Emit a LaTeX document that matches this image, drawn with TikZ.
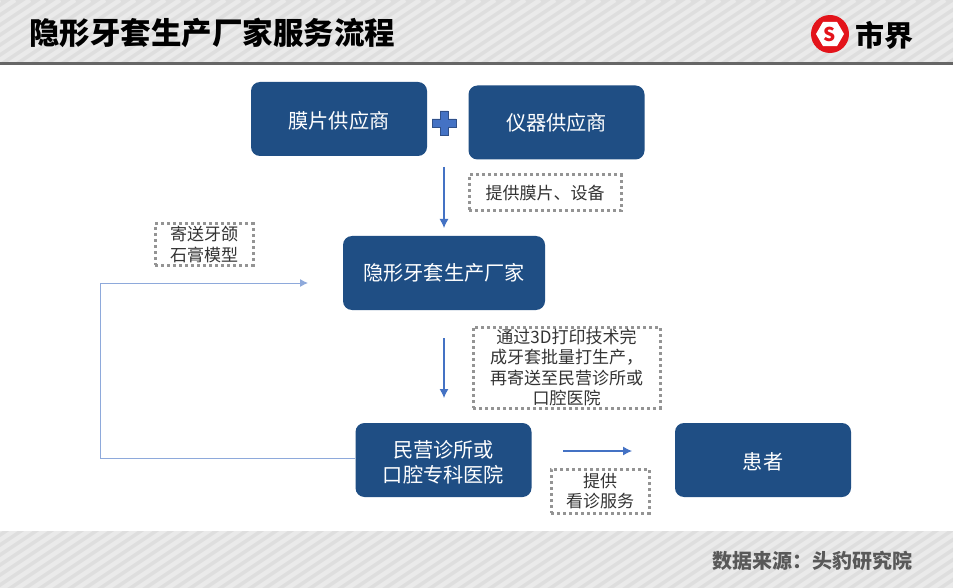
\documentclass[tikz,border=0pt]{standalone}
\usepackage{fontspec}
\usetikzlibrary{arrows.meta,shapes.geometric}
\setmainfont{Noto Sans CJK SC}
\definecolor{boxblue}{HTML}{1F4E84}
\definecolor{arrowblue}{HTML}{4472C4}
\definecolor{lineblue}{HTML}{8EA9DB}
\definecolor{stripedark}{HTML}{DEDEDE}
\definecolor{stripelight}{HTML}{EAEAEA}
\definecolor{logored}{HTML}{E3141B}
\newcommand{\dn}[1]{\raisebox{-2pt}[\height][\depth]{#1}}
\begin{document}
\begin{tikzpicture}[x=1pt, y=-1pt]

\tikzstyle{box} = [rectangle, rounded corners=9pt, fill=boxblue, text=white, minimum width=176pt, minimum height=74pt, align=center, inner sep=0pt, font=\fontsize{20.2}{25}\selectfont]
\tikzstyle{tag} = [rectangle, draw=black!42, line width=3pt, dash pattern=on 3pt off 3pt, text=black!80, align=center, inner sep=0pt, font=\fontsize{17}{20.5}\selectfont]
\tikzstyle{flow} = [-{Latex[length=9pt,width=9pt]}, arrowblue, line width=1.1pt]

\useasboundingbox (0,0) rectangle (953,588);
\fill[white] (0,0) rectangle (953,588);

% header and footer bands
\begin{scope}
\clip (0,0) rectangle (953,62) (0,531) rectangle (953,588);
\fill[stripedark] (0,0) rectangle (953,588);
\foreach \i in {-900,-885,...,1000}
  \draw[stripelight, line width=4.5pt] (\i,600) -- (\i+900,0);
\end{scope}
\fill[black!60] (0,62) rectangle (953,65);

\node[font=\fontsize{30.5}{30}\selectfont\bfseries, text=black] (t) at (212,33) {隐形牙套生产厂家服务流程};
\node[font=\fontsize{20}{20}\selectfont\bfseries, text=black!65] (src) at (812.5,561) {数据来源：头豹研究院};

% logo
\node[circle, fill=logored, minimum size=38pt, inner sep=0pt] (logo) at (830,34) {};
\node[regular polygon, regular polygon sides=6, fill=white, minimum size=28pt, inner sep=0pt, text=logored, font=\fontsize{19}{19}\selectfont\bfseries] (lg) at (logo) {S};
\node[font=\fontsize{29}{29}\selectfont\bfseries, text=black] (lt) at (884,35) {市界};

\node[box] (m) at (339,119) {\dn{膜片供应商}};
\node[box] (y) at (556.5,122.5) {仪器供应商};
\node[box, minimum width=202pt] (f) at (444,273) {隐形牙套生产厂家};
\node[box] (k) at (443.5,460) {\dn{民营诊所或}\\\dn{口腔专科医院}};
\node[box] (h) at (763,460) {\dn{患者}};

\draw[fill=arrowblue, draw=arrowblue!70!black, line width=.5pt] (440,111) -- (448,111) -- (448,119) -- (456,119) -- (456,127) -- (448,127) -- (448,135) -- (440,135) -- (440,127) -- (432,127) -- (432,119) -- (440,119) -- cycle;

\node[tag, minimum width=152pt, minimum height=36pt] (a) at (545,193) {提供膜片、设备};
\node[tag, minimum width=98pt, minimum height=41pt] (b) at (204,244.5) {寄送牙颌\\石膏模型};
\node[tag, minimum width=187pt, minimum height=81pt] (c) at (566.5,367.5) {通过3D打印技术完\\成牙套批量打生产，\\再寄送至民营诊所或\\口腔医院};
\node[tag, minimum width=98pt, minimum height=44pt] (d) at (600,491) {提供\\看诊服务};

\coordinate (p1) at (444,167);
\coordinate (p2) at (444,228);
\coordinate (p3) at (444,338);
\coordinate (p4) at (444,398);
\coordinate (p5) at (563,451);
\coordinate (p6) at (632,451);
\coordinate (p7) at (100,458);
\coordinate (p8) at (100,283);
\coordinate (p9) at (308,283);

\draw[flow] (p1) -- (p2);
\draw[flow] (p3) -- (p4);
\draw[flow] (p5) -- (p6);
\draw[-{Latex[length=8pt,width=8pt]}, lineblue, line width=1pt] (k.west |- p7) -- (p7) -- (p8) -- (p9);
\end{tikzpicture}
\end{document}
